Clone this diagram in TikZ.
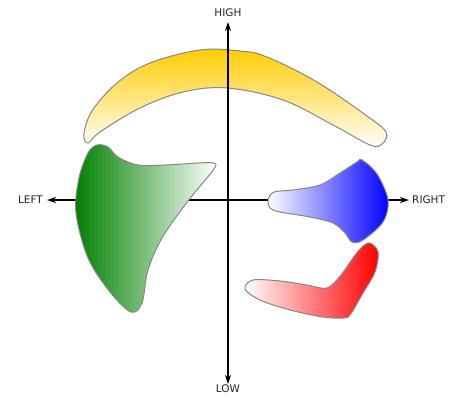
\documentclass[tikz,border=0pt]{standalone}
\usepackage{fontspec}
\setmainfont{DejaVu Sans}
\usetikzlibrary{arrows.meta}
\definecolor{gold}{RGB}{255, 204, 0}
\definecolor{leafgreen}{RGB}{0, 128, 0}
\definecolor{rim}{RGB}{135, 135, 135}

\begin{document}
\begin{tikzpicture}[x=1pt, y=-1pt,
    blob/.style={draw=rim, line width=1pt},
    axislabel/.style={font=\fontsize{10.5}{12}\selectfont, text=black!85, inner sep=0pt},
    axisline/.style={-{Stealth[length=9pt, width=6pt]}, line width=1.2pt}]
  \useasboundingbox (0,0) rectangle (457,397);
  % axes
  \coordinate (O) at (228,200);
  \coordinate (hightip) at (228,22);
  \coordinate (lowtip) at (228,384);
  \coordinate (lefttip) at (47,200);
  \coordinate (righttip) at (409,200);
  \node[axislabel] (high) at (228,13) {HIGH};
  \node[axislabel] (low) at (228,389) {LOW};
  \node[axislabel, anchor=east] (left) at (43,200) {LEFT};
  \node[axislabel, anchor=west] (right) at (412,200) {RIGHT};
  \draw[axisline] (O) -- (lefttip);
  \draw[axisline] (O) -- (righttip);
  % blobs
  \draw[blob, top color=gold, bottom color=white]
    plot[smooth cycle, tension=0.6] coordinates {(84,134) (92,111) (117,83) (150,63) (200,50) (240,51)
      (267,57) (317,82) (367,116) (386,132) (382,144) (370,145) (333,125) (283,100) (227,88)
      (183,92) (140,108) (100,132) (88,143)};
  \draw[blob, left color=leafgreen, middle color=leafgreen!35!white, right color=white]
    plot[smooth cycle, tension=0.55] coordinates {(97,145) (108,147) (118,157) (138,165) (165,165)
      (198,163) (213,163) (214,169) (188,201) (162,238) (148,270) (142,303) (131,312) (110,292)
      (88,258) (76,213) (79,178) (88,153)};
  \draw[blob, left color=white, middle color=blue!45!white, right color=blue]
    plot[smooth cycle, tension=0.55] coordinates {(268,200) (274,192) (293,190) (320,185) (340,173)
      (357,162) (362,160) (377,174) (388,200) (383,222) (363,240) (352,242) (345,233) (333,223)
      (310,217) (280,212) (270,208)};
  \draw[blob, left color=white, right color=red]
    plot[smooth cycle, tension=0.55] coordinates {(370,243) (378,252) (375,272) (363,293) (350,315)
      (343,318) (323,317) (290,310) (260,300) (245,289) (253,280) (280,281) (307,285) (327,288)
      (341,275) (353,258) (362,247)};
  \draw[axisline] (O) -- (hightip);
  \draw[axisline] (O) -- (lowtip);
\end{tikzpicture}
\end{document}
